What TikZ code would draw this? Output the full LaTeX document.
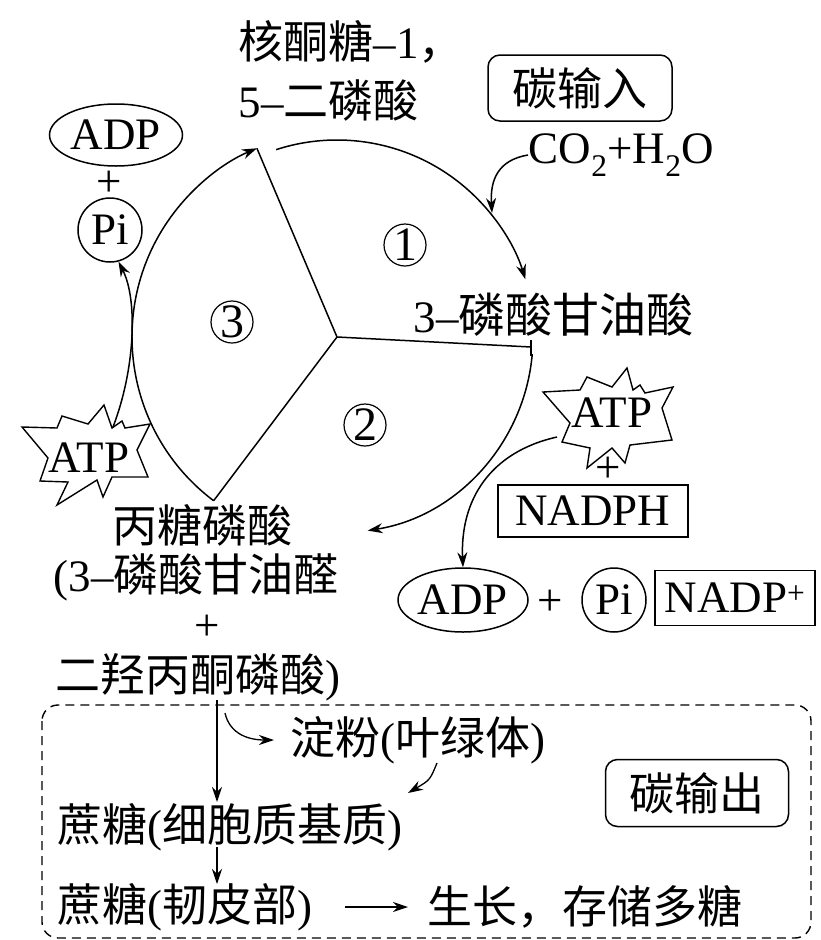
\documentclass[tikz,border=0pt]{standalone}
\usepackage{fontspec}
\setmainfont{Liberation Serif}
\newfontfamily\cjk{Noto Sans CJK SC}
\usetikzlibrary{arrows.meta,calc,shapes.geometric}
\begin{document}
\begin{tikzpicture}[x=1pt,y=-1pt, line width=1.5pt,
  every node/.style={font=\fontsize{45}{54}\selectfont, inner sep=0pt},
  arr/.style={-{Stealth[length=15pt,width=10pt]}},
  boxed/.style={draw, line width=1.5pt, minimum width=190pt, minimum height=52pt},
  ell/.style={ellipse, draw, line width=1.5pt, minimum width=133pt, minimum height=62pt},
  circ/.style={circle, draw, line width=1.5pt, minimum size=64pt},
  num/.style={circle, draw, line width=1.2pt, minimum size=42pt, font=\fontsize{48}{50}\selectfont},
  lbl/.style={anchor=west},
  starshape/.style={draw, fill=white, line width=1.4pt, line join=miter}
]
\fill[white] (0,0) rectangle (820,940);
\useasboundingbox (0,0) rectangle (820,940);

% cycle
\coordinate (c) at (337,337);
\coordinate (a1s) at ($(c)+(108:197pt)$);
\coordinate (a2s) at ($(c)+(-5:196pt)$);
\coordinate (a3s) at ($(c)+(233:205pt)$);
\coordinate (r1) at ($(c)+(113:205pt)$);
\coordinate (r2) at (531,347);
\draw[arr] (a1s) arc[start angle=108, end angle=17, radius=197pt];
\draw[arr] (a2s) arc[start angle=-5, end angle=-81, radius=196pt];
\draw[arr] (a3s) arc[start angle=233, end angle=113, radius=205pt];
\draw (c) -- (r1);
\draw (c) -- (r2);
\draw (c) -- (a3s);
\draw ($(r2)+(0,-7)$) -- ($(r2)+(0,9)$);

\node[num] (n1) at (405,245) {1};
\node[num] (n2) at (365,425) {2};
\node[num] (n3) at (232,322) {3};

% top texts
\node[lbl] (t1) at (238,42) {{\cjk 核酮糖}–1{\cjk ，}};
\node[lbl] (t2) at (238,100) {5–{\cjk 二磷酸}};
\node[draw, rounded corners=12pt, minimum width=184pt, minimum height=66pt] (cin) at (580,88) {\cjk 碳输入};
\node[lbl] (co2) at (528,155) {CO\textsubscript{2}+H\textsubscript{2}O};
\coordinate (co2e) at (492,213);
\draw[arr] (co2.west) .. controls (498,160) and (490,180) .. (co2e);
\node[lbl] (pga) at (413,315) {3–{\cjk\fontsize{47}{54}\selectfont 磷酸甘油酸}};

% left ADP + Pi, ATP
\node[ell] (adp1) at (116,135) {ADP};
\node (pl1) at (109,184) {+};
\node[circ] (pi1) at (110,230) {Pi};
\draw[starshape, shift={(90,455)}] (-68,-28) -- (-33,-27) -- (-28,-39) -- (-2,-31) -- (14,-50) -- (22,-27) -- (32,-34) -- (35,-27) -- (60,-31) -- (47,-5) -- (58,22) -- (22,22) -- (13,42) -- (7,25) -- (-33,50) -- (-22,27) -- (-50,26) -- (-42,3) -- cycle;
\node (atpL) at (89,458) {ATP};
\coordinate (sL) at (113,427);
\draw[arr] (sL) .. controls (135,370) and (138,300) .. (pi1.-75);

% right ATP + NADPH
\draw[starshape, shift={(610,420)}] (-67,-28) -- (-30,-30) -- (-23,-43) -- (2,-33) -- (17,-52) -- (23,-30) -- (30,-35) -- (35,-27) -- (63,-33) -- (52,-12) -- (62,20) -- (20,25) -- (15,43) -- (2,28) -- (-23,48) -- (-20,28) -- (-48,22) -- (-40,3) -- cycle;
\node (atpR) at (612,413) {ATP};
\node (pl2) at (608,470) {+};
\node[boxed] (nadph) at (593,511) {NADPH};
\node[ell, minimum width=130pt, minimum height=64pt] (adp2) at (463,600) {ADP};
\node (pl3) at (550,603) {+};
\node[circ] (pi2) at (614,600) {Pi};
\node[boxed, minimum width=160pt, minimum height=55pt] (nadp) at (735,598) {NADP\textsuperscript{+}};
\coordinate (sR) at (557,437);
\draw[arr] (sR) .. controls (490,452) and (460,500) .. (adp2.north);

% triose phosphate
\node[lbl] (tp1) at (112,525) {\cjk 丙糖磷酸};
\node[lbl] (tp2) at (53,577) {(3–{\cjk 磷酸甘油醛}};
\node (tp3) at (207,628) {+};
\node[lbl] (tp4) at (55,677) {{\cjk 二羟丙酮磷酸})};

% carbon export
\draw[line width=1.4pt, dash pattern=on 9pt off 6pt, rounded corners=16pt] (42,705) rectangle (811,938);
\node[lbl] (starch) at (290,740) {{\cjk 淀粉}({\cjk 叶绿体})};
\node[draw, rounded corners=12pt, minimum width=183pt, minimum height=67pt] (cout) at (697,793) {\cjk 碳输出};
\node[lbl] (suc1) at (57,827) {{\cjk 蔗糖}({\cjk 细胞质基质})};
\node[lbl] (suc2) at (57,907) {{\cjk 蔗糖}({\cjk 韧皮部})};
\node[lbl] (grow) at (427,907) {\cjk 生长，存储多糖};
\coordinate (b0) at (217,700);
\coordinate (b1) at (217,847);
\coordinate (bs) at (225,713);
\draw[arr] (b0) -- (217,802);
\draw[arr] (b1) -- (217,884);
\draw[arr, line width=1.3pt] (bs) .. controls (230,735) and (250,740) .. ($(starch.west)+(-16,0)$);
\coordinate (st2) at (437,763);
\draw[arr, line width=1.3pt] (st2) .. controls (430,780) .. (408,793);
\coordinate (g0) at (345,907);
\draw[arr] (g0) -- ($(grow.west)+(-19,0)$);
\end{tikzpicture}
\end{document}
